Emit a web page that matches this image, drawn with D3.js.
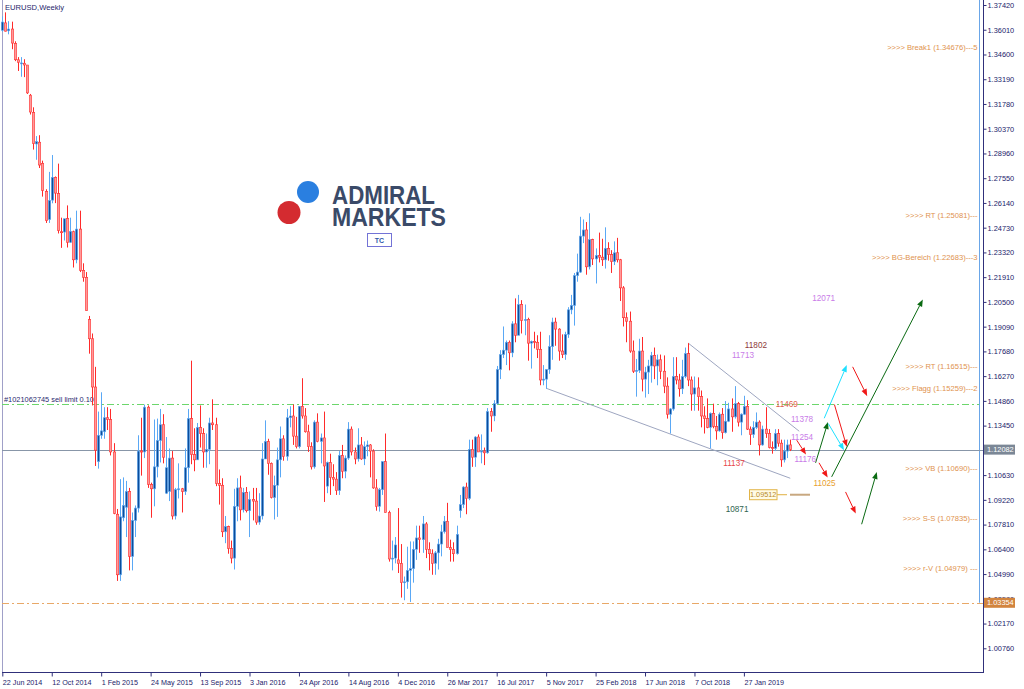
<!DOCTYPE html>
<html><head><meta charset="utf-8">
<script src="https://cdn.jsdelivr.net/npm/d3@7"></script>
<style>
body{margin:0;background:#fff}
svg{display:block}
text{font-family:"Liberation Sans",Arial,sans-serif}
</style>
</head><body>
<svg id="c" width="1024" height="689"></svg>
<script>
// ---------- DATA (EURUSD weekly, first bar = week of 22 Jun 2014) ----------
const firstWeek = "2014-06-22";
const opens = [
1.3598,1.3640,1.3595,1.3605,1.3523,1.3430,1.3410,1.3410,1.3400,1.3228,1.3130,1.2950,1.2960,1.2840,1.2680,1.2520,
1.2630,1.2760,1.2667,1.2450,1.2448,1.2525,1.2390,1.2450,1.2290,1.2465,1.2230,1.2190,1.1950,1.1840,1.1565,1.1140,
1.1290,1.1310,1.1390,1.1380,1.1195,1.0840,1.0495,1.0820,1.0880,1.0970,1.0600,1.0805,1.0875,1.1200,1.1195,1.1450,
1.1010,1.0985,1.1110,1.1260,1.1350,1.0960,1.0970,1.1160,1.0830,1.0980,1.0985,1.0970,1.1105,1.1385,1.1180,1.1150,
1.1335,1.1300,1.1195,1.1210,1.1360,1.1350,1.1015,1.1005,1.0740,1.0770,1.0645,1.0590,1.0885,1.0990,1.0865,1.0965,
1.0860,1.0925,1.0915,1.0795,1.0830,1.1155,1.1255,1.1130,1.0935,1.1005,1.1150,1.1270,1.1170,1.1390,1.1400,1.1285,
1.1225,1.1455,1.1400,1.1310,1.1225,1.1110,1.1365,1.1255,1.1275,1.1000,1.1135,1.1050,1.1040,1.0975,1.1175,1.1085,
1.1160,1.1325,1.1195,1.1155,1.1235,1.1155,1.1225,1.1235,1.1200,1.0990,1.0885,1.0980,1.1140,1.0850,1.0585,1.0590,
1.0580,1.0560,1.0450,1.0455,1.0520,1.0530,1.0640,1.0705,1.0695,1.0785,1.0640,1.0615,1.0560,1.0620,1.0670,1.0740,
1.0800,1.0650,1.0640,1.0615,1.0860,1.0895,1.0995,1.0930,1.1210,1.1165,1.1280,1.1195,1.1200,1.1190,1.1425,1.1400,
1.1470,1.1665,1.1750,1.1775,1.1820,1.1760,1.1925,1.1860,1.2035,1.1945,1.1950,1.1815,1.1825,1.1820,1.1780,1.1605,
1.1610,1.1665,1.1795,1.1935,1.1895,1.1770,1.1750,1.1865,1.2005,1.2030,1.2200,1.2220,1.2425,1.2460,1.2250,1.2405,
1.2295,1.2315,1.2305,1.2290,1.2355,1.2320,1.2280,1.2330,1.2290,1.2130,1.1960,1.1940,1.1770,1.1655,1.1660,1.1770,
1.1610,1.1650,1.1685,1.1745,1.1685,1.1720,1.1655,1.1570,1.1410,1.1440,1.1625,1.1605,1.1555,1.1625,1.1755,1.1605,
1.1525,1.1560,1.1510,1.1400,1.1385,1.1335,1.1415,1.1340,1.1315,1.1410,1.1305,1.1370,1.1440,1.1395,1.1470,1.1365,
1.1410,1.1455,1.1325,1.1295,1.1335,1.1365,1.1235,1.1325,1.1300,1.1220,1.1215,1.1300,1.1245,1.1150,1.1200,1.1235
];
const highs = [
1.3677,1.3700,1.3650,1.3647,1.3535,1.3445,1.3445,1.3433,1.3400,1.3235,1.3159,1.2995,1.3000,1.2855,1.2692,1.2791,
1.2887,1.2765,1.2838,1.2530,1.2510,1.2600,1.2530,1.2456,1.2570,1.2570,1.2270,1.2220,1.1970,1.1870,1.1680,1.1425,
1.1535,1.1450,1.1450,1.1440,1.1245,1.0870,1.1040,1.1050,1.1030,1.0990,1.0850,1.0890,1.1290,1.1390,1.1465,1.1460,
1.1020,1.1380,1.1385,1.1440,1.1410,1.1280,1.1215,1.1200,1.0990,1.1130,1.0990,1.1215,1.1440,1.1715,1.1330,1.1360,
1.1460,1.1330,1.1300,1.1390,1.1495,1.1390,1.1095,1.1045,1.0830,1.0775,1.0690,1.0985,1.1045,1.1060,1.0990,1.0995,
1.0970,1.0990,1.0990,1.0960,1.1245,1.1375,1.1270,1.1135,1.1060,1.1220,1.1340,1.1290,1.1440,1.1455,1.1465,1.1395,
1.1455,1.1615,1.1445,1.1350,1.1250,1.1375,1.1415,1.1300,1.1425,1.1140,1.1185,1.1125,1.1080,1.1200,1.1235,1.1175,
1.1365,1.1340,1.1220,1.1330,1.1280,1.1255,1.1260,1.1240,1.1210,1.1040,1.0990,1.1140,1.1300,1.0860,1.0690,1.0710,
1.0875,1.0670,1.0485,1.0655,1.0685,1.0685,1.0775,1.0775,1.0830,1.0795,1.0680,1.0640,1.0630,1.0700,1.0780,1.0830,
1.0905,1.0695,1.0680,1.0775,1.0950,1.1000,1.1020,1.1265,1.1265,1.1285,1.1295,1.1295,1.1220,1.1445,1.1445,1.1490,
1.1685,1.1775,1.1910,1.1830,1.1830,1.1940,1.2070,1.2090,1.2060,1.2035,1.1960,1.1830,1.1880,1.1860,1.1880,1.1690,
1.1665,1.1860,1.1960,1.1960,1.1900,1.1865,1.1880,1.2020,1.2090,1.2215,1.2325,1.2535,1.2520,1.2505,1.2555,1.2410,
1.2355,1.2445,1.2410,1.2475,1.2390,1.2345,1.2395,1.2415,1.2295,1.2140,1.1990,1.1995,1.1830,1.1725,1.1840,1.1850,
1.1680,1.1720,1.1765,1.1790,1.1750,1.1750,1.1745,1.1620,1.1445,1.1735,1.1735,1.1640,1.1720,1.1790,1.1815,1.1625,
1.1625,1.1620,1.1545,1.1455,1.1500,1.1420,1.1470,1.1400,1.1420,1.1445,1.1485,1.1475,1.1500,1.1570,1.1480,1.1415,
1.1515,1.1490,1.1340,1.1370,1.1420,1.1375,1.1345,1.1450,1.1325,1.1255,1.1325,1.1325,1.1265,1.1265,1.1265,1.1265
];
const lows = [
1.3590,1.3591,1.3575,1.3490,1.3422,1.3366,1.3333,1.3331,1.3235,1.3118,1.2918,1.2860,1.2813,1.2650,1.2500,1.2500,
1.2612,1.2613,1.2440,1.2358,1.2400,1.2360,1.2386,1.2246,1.2270,1.2220,1.2165,1.2000,1.1755,1.1460,1.1115,1.1100,
1.1270,1.1270,1.1320,1.1175,1.0840,1.0460,1.0460,1.0800,1.0710,1.0520,1.0520,1.0710,1.0850,1.1060,1.1160,1.0990,
1.0820,1.0885,1.1050,1.1135,1.1130,1.0955,1.0915,1.0810,1.0810,1.0930,1.0850,1.0950,1.1020,1.1125,1.1085,1.1150,
1.1220,1.1105,1.1105,1.1125,1.1320,1.1000,1.0895,1.0710,1.0675,1.0615,1.0560,1.0525,1.0800,1.0805,1.0850,1.0850,
1.0710,1.0805,1.0780,1.0780,1.0810,1.1155,1.1065,1.0930,1.0810,1.0825,1.1050,1.1145,1.1145,1.1335,1.1235,1.1215,
1.1215,1.1385,1.1305,1.1195,1.1095,1.1100,1.1250,1.1130,1.0910,1.0960,1.0950,1.1000,1.0950,1.0950,1.1045,1.1045,
1.1150,1.1175,1.1125,1.1140,1.1150,1.1120,1.1170,1.1050,1.0985,1.0860,1.0855,1.0950,1.0850,1.0570,1.0520,1.0560,
1.0505,1.0365,1.0350,1.0415,1.0340,1.0450,1.0580,1.0620,1.0620,1.0590,1.0520,1.0495,1.0495,1.0525,1.0600,1.0730,
1.0650,1.0570,1.0570,1.0610,1.0820,1.0875,1.0840,1.0920,1.1110,1.1110,1.1195,1.1130,1.1120,1.1185,1.1310,1.1370,
1.1465,1.1610,1.1730,1.1690,1.1660,1.1735,1.1820,1.1860,1.1870,1.1860,1.1715,1.1670,1.1785,1.1730,1.1575,1.1575,
1.1555,1.1640,1.1720,1.1800,1.1715,1.1730,1.1720,1.1845,1.1980,1.1915,1.2165,1.2215,1.2385,1.2205,1.2235,1.2260,
1.2155,1.2275,1.2255,1.2240,1.2285,1.2215,1.2260,1.2275,1.2055,1.1910,1.1820,1.1760,1.1645,1.1510,1.1645,1.1540,
1.1505,1.1525,1.1590,1.1610,1.1575,1.1610,1.1530,1.1385,1.1300,1.1430,1.1580,1.1510,1.1525,1.1615,1.1570,1.1430,
1.1430,1.1430,1.1335,1.1300,1.1330,1.1215,1.1330,1.1265,1.1310,1.1270,1.1300,1.1365,1.1310,1.1385,1.1340,1.1290,
1.1405,1.1320,1.1235,1.1275,1.1325,1.1175,1.1230,1.1275,1.1215,1.1185,1.1200,1.1225,1.1110,1.1135,1.1160,1.1200
];
const closes = [
1.3645,1.3593,1.3605,1.3525,1.3430,1.3415,1.3412,1.3400,1.3241,1.3132,1.2952,1.2964,1.2830,1.2685,1.2513,1.2628,
1.2760,1.2670,1.2456,1.2448,1.2524,1.2390,1.2452,1.2290,1.2465,1.2230,1.2190,1.2000,1.1840,1.1565,1.1205,1.1290,
1.1315,1.1390,1.1380,1.1195,1.0845,1.0495,1.0825,1.0890,1.0970,1.0600,1.0805,1.0875,1.1200,1.1195,1.1450,1.1010,
1.0985,1.1110,1.1260,1.1350,1.1165,1.1105,1.1160,1.0830,1.0980,1.0985,1.0970,1.1105,1.1385,1.1180,1.1150,1.1335,
1.1300,1.1195,1.1210,1.1360,1.1350,1.1015,1.1005,1.0740,1.0770,1.0645,1.0590,1.0885,1.0990,1.0865,1.0965,1.0860,
1.0925,1.0915,1.0795,1.0830,1.1155,1.1255,1.1130,1.0935,1.1005,1.1150,1.1270,1.1170,1.1390,1.1400,1.1285,1.1225,
1.1455,1.1400,1.1310,1.1225,1.1110,1.1365,1.1255,1.1275,1.1115,1.1135,1.1050,1.1040,1.0975,1.1175,1.1085,1.1160,
1.1325,1.1195,1.1155,1.1235,1.1155,1.1225,1.1235,1.1200,1.0990,1.0885,1.0980,1.1140,1.0850,1.0585,1.0590,1.0665,
1.0560,1.0450,1.0455,1.0520,1.0530,1.0640,1.0705,1.0695,1.0785,1.0640,1.0615,1.0560,1.0620,1.0670,1.0740,1.0800,
1.0650,1.0640,1.0615,1.0725,1.0895,1.0995,1.0930,1.1210,1.1165,1.1280,1.1195,1.1200,1.1190,1.1425,1.1400,1.1470,
1.1665,1.1750,1.1775,1.1820,1.1760,1.1925,1.1860,1.2035,1.1945,1.1950,1.1815,1.1825,1.1820,1.1780,1.1605,1.1610,
1.1665,1.1795,1.1935,1.1895,1.1770,1.1750,1.1865,1.2005,1.2030,1.2200,1.2220,1.2425,1.2460,1.2250,1.2405,1.2295,
1.2315,1.2305,1.2290,1.2355,1.2320,1.2280,1.2330,1.2290,1.2130,1.1960,1.1940,1.1770,1.1655,1.1660,1.1770,1.1610,
1.1650,1.1685,1.1745,1.1685,1.1720,1.1655,1.1570,1.1410,1.1440,1.1625,1.1605,1.1555,1.1625,1.1755,1.1605,1.1525,
1.1560,1.1510,1.1400,1.1385,1.1335,1.1415,1.1340,1.1315,1.1410,1.1305,1.1370,1.1440,1.1395,1.1470,1.1365,1.1410,
1.1455,1.1325,1.1295,1.1335,1.1365,1.1235,1.1325,1.1300,1.1220,1.1215,1.1300,1.1245,1.1150,1.1200,1.1235,1.1208
];

const xTickIndex = [0,16,32,48,64,80,96,112,128,144,160,176,192,208,224,240];
const xTickLabels = ["22 Jun 2014","12 Oct 2014","1 Feb 2015","24 May 2015","13 Sep 2015","3 Jan 2016",
  "24 Apr 2016","14 Aug 2016","4 Dec 2016","26 Mar 2017","16 Jul 2017","5 Nov 2017","25 Feb 2018",
  "17 Jun 2018","7 Oct 2018","27 Jan 2019"];
const yTickValues = [1.37420,1.36010,1.34600,1.33190,1.31780,1.30370,1.28960,1.27550,1.26140,1.24730,
  1.23320,1.21910,1.20500,1.19090,1.17680,1.16270,1.14860,1.13450,1.12040,1.10630,1.09220,1.07810,
  1.06400,1.04990,1.03580,1.02170,1.00760];

const currentPrice = 1.12082;
const orderPrice = 1.14690;
const orderLabel = "#1021062745 sell limit 0.10";
const supportPrice = 1.03354;

const levelLabels = [">>>> Break1 (1.34676)---5",">>>> RT (1.25081)---",">>>> BG-Bereich (1.22683)---3",
  ">>>> RT (1.16515)---",">>>> Flagg (1.15259)---2",">>>> VB (1.10690)---",">>>> S-S (1.07835)---",
  ">>>> r-V (1.04979) ---"];
const levelPrices = [1.34676,1.25081,1.22683,1.16515,1.15259,1.10690,1.07835,1.04979];

// trend lines: [index1, price1, index2, price2]
const trendLines = [[222,1.1815,257.9,1.1313],[176,1.1558,255,1.1045]];

// arrows: [index1, price1, index2, price2, colour]
const arrows = [
  [257.1,1.1262,260.1,1.1180,"red"],
  [263.2,1.1133,267.2,1.1365,"green"],
  [264.3,1.1133,267.1,1.1049,"red"],
  [266.0,1.1387,273.3,1.1690,"cyan"],
  [267.3,1.1357,272.4,1.1205,"cyan"],
  [269.3,1.1465,273.3,1.1224,"red"],
  [275.2,1.1680,279.9,1.1513,"red"],
  [268.4,1.1053,297.9,1.2064,"green"],
  [272.9,1.0967,276.2,1.0844,"red"],
  [278.1,1.0783,283.0,1.1081,"green"]
];

// numeric notes: text, index, price, colour
const noteTexts = ["12071","11802","11713","11469","11378","11254","11176","11137","11025","10871"];
const noteIndex = [265.8,243.9,239.7,253.9,258.8,258.8,259.9,236.8,266.1,237.8];
const notePrices = [1.2071,1.1802,1.1745,1.1467,1.1380,1.1278,1.1152,1.1130,1.1016,1.0868];
const noteColors = ["#c97ce8","#8e3a3a","#c97ce8","#e0604c","#c97ce8","#c97ce8","#c97ce8","#e8484a","#e8a030","#2f6450"];

const priceBoxValue = 1.09512;

// ---------- SCALES ----------
const svg = d3.select("#c");
const plotL = 2, plotR = 983, plotB = 672;
const x = d3.scaleLinear().domain([0,240]).range([2.3,743.9]);
const y = d3.scaleLinear().domain([1.00760,1.37420]).range([648.3,5]);

const colors = {red:"#f01818", green:"#0a6a12", cyan:"#1ee0ff"};

svg.append("rect").attr("width",1024).attr("height",689).attr("fill","#ffffff");

// ---------- LOGO ----------
const logo = svg.append("g");
logo.append("circle").attr("cx",308).attr("cy",192).attr("r",11).attr("fill","#2a7fe0");
logo.append("circle").attr("cx",289).attr("cy",212.5).attr("r",11.5).attr("fill","#d42b30");
const lt = logo.append("text").attr("font-size",26).attr("font-weight","bold").attr("fill","#3a4a68");
lt.append("tspan").attr("x",332).attr("y",203.5).attr("textLength",103).attr("lengthAdjust","spacingAndGlyphs").text("ADMIRAL");
lt.append("tspan").attr("x",332).attr("y",225.5).attr("textLength",114).attr("lengthAdjust","spacingAndGlyphs").text("MARKETS");
logo.append("rect").attr("x",367.5).attr("y",233.5).attr("width",24).attr("height",13)
  .attr("fill","#fff").attr("stroke","#7373d6").attr("stroke-width",1);
logo.append("text").attr("x",379.5).attr("y",243).attr("text-anchor","middle").attr("font-size",7)
  .attr("font-weight","bold").attr("fill","#3056a8").text("TC");

// ---------- FRAME ----------
svg.append("line").attr("x1",plotL+0.5).attr("x2",plotL+0.5).attr("y1",0).attr("y2",plotB)
  .attr("stroke","#a0a0c8");
svg.append("line").attr("x1",979.5).attr("x2",979.5).attr("y1",0).attr("y2",y(supportPrice))
  .attr("stroke","#6aa6e8");

// horizontal levels
svg.append("line").attr("x1",plotL).attr("x2",979).attr("y1",Math.round(y(orderPrice))+0.5)
  .attr("y2",Math.round(y(orderPrice))+0.5).attr("stroke","#6cd66c").attr("stroke-dasharray","7,3,2,3");
svg.append("text").attr("x",4).attr("y",y(orderPrice)-2.2).attr("font-size",7.4).attr("fill","#2a2a70")
  .text(orderLabel);
svg.append("line").attr("x1",plotL).attr("x2",plotR).attr("y1",Math.round(y(currentPrice))+0.5)
  .attr("y2",Math.round(y(currentPrice))+0.5).attr("stroke","#8896a8");
svg.append("line").attr("x1",plotL).attr("x2",plotR).attr("y1",Math.round(y(supportPrice))+0.5)
  .attr("y2",Math.round(y(supportPrice))+0.5).attr("stroke","#e8a868").attr("stroke-dasharray","7,3,2,3");

// trend lines
svg.append("g").selectAll("line").data(trendLines).join("line")
  .attr("x1",d=>x(d[0])).attr("y1",d=>y(d[1])).attr("x2",d=>x(d[2])).attr("y2",d=>y(d[3]))
  .attr("stroke","#9ea6c0").attr("stroke-width",1);

// ---------- CANDLES ----------
const candles = opens.map((o,i)=>({i,o,h:highs[i],l:lows[i],c:closes[i]}));
const cg = svg.append("g");
cg.selectAll("line").data(candles).join("line")
  .attr("x1",d=>Math.round(x(d.i))+0.5).attr("x2",d=>Math.round(x(d.i))+0.5)
  .attr("y1",d=>y(d.h)).attr("y2",d=>y(d.l))
  .attr("stroke",d=>d.c>=d.o?"#5aa8f5":"#ff2a2a").attr("stroke-width",1);
cg.selectAll("rect").data(candles).join("rect")
  .attr("x",d=>Math.round(x(d.i))-0.7).attr("width",2.4)
  .attr("y",d=>y(Math.max(d.o,d.c)))
  .attr("height",d=>Math.max(1,Math.abs(y(d.o)-y(d.c))))
  .attr("fill",d=>d.c>=d.o?"#0c4d9a":"#ff9a9a")
  .attr("stroke",d=>d.c>=d.o?"#6ab0f5":"#ff3030").attr("stroke-width",0.6);

// ---------- ARROWS ----------
const ag = svg.append("g");
arrows.forEach(a=>{
  const x1=x(a[0]),y1=y(a[1]),x2=x(a[2]),y2=y(a[3]);
  const ang=Math.atan2(y2-y1,x2-x1), L=7, Wd=2.8;
  const bx=x2-L*Math.cos(ang), by=y2-L*Math.sin(ang);
  ag.append("line").attr("x1",x1).attr("y1",y1).attr("x2",bx).attr("y2",by)
    .attr("stroke",colors[a[4]]).attr("stroke-width",1);
  ag.append("path").attr("d",`M${x2},${y2}L${bx+Wd*Math.sin(ang)},${by-Wd*Math.cos(ang)}L${bx-Wd*Math.sin(ang)},${by+Wd*Math.cos(ang)}Z`)
    .attr("fill",colors[a[4]]);
});

// ---------- PRICE LABEL BOX ----------
const pb = y(priceBoxValue);
svg.append("line").attr("x1",777).attr("x2",787).attr("y1",pb).attr("y2",pb).attr("stroke","#e0b040");
svg.append("line").attr("x1",790).attr("x2",810).attr("y1",pb).attr("y2",pb).attr("stroke","#c8a880").attr("stroke-width",2);
svg.append("rect").attr("x",749.5).attr("y",pb-5).attr("width",27.5).attr("height",10)
  .attr("fill","#fffbe6").attr("stroke","#e2b448");
svg.append("text").attr("x",763.2).attr("y",pb+2.6).attr("text-anchor","middle").attr("font-size",7.3)
  .attr("fill","#b88a2a").text(priceBoxValue.toFixed(5));

// ---------- NOTES ----------
svg.append("g").selectAll("text").data(noteTexts).join("text")
  .attr("x",(d,i)=>x(noteIndex[i])).attr("y",(d,i)=>y(notePrices[i])+3)
  .attr("text-anchor","middle").attr("font-size",8.2).attr("fill",(d,i)=>noteColors[i]).text(d=>d);

// level labels (right aligned)
svg.append("g").selectAll("text").data(levelLabels).join("text")
  .attr("x",977.5).attr("y",(d,i)=>y(levelPrices[i])-3.2).attr("text-anchor","end")
  .attr("font-size",7.6).attr("fill","#e0924e").text(d=>d);

// title
svg.append("text").attr("x",5).attr("y",10).attr("font-size",7.6).attr("fill","#1e1e6a").text("EURUSD,Weekly");

// ---------- AXES ----------
const yAxis = d3.axisRight(y).tickValues(yTickValues).tickSize(3).tickSizeOuter(0)
  .tickFormat(d=>d.toFixed(5));
const gy = svg.append("g").attr("transform",`translate(${plotR+0.5},0)`).call(yAxis);
gy.select(".domain").remove();
gy.selectAll("line").attr("stroke","#30307a");
gy.selectAll("text").attr("x",4).attr("font-size",7.4).attr("fill","#22226a")
  .attr("font-family","Liberation Sans, Arial, sans-serif");

const xAxis = d3.axisBottom(x).tickValues(xTickIndex).tickSize(4).tickSizeOuter(0)
  .tickFormat((d,i)=>xTickLabels[i]);
const gx = svg.append("g").attr("transform",`translate(0,${plotB+0.5})`).call(xAxis);
gx.select(".domain").remove();
gx.selectAll("line").attr("stroke","#30307a");
gx.selectAll("text").attr("text-anchor","start").attr("x",0).attr("font-size",7.2).attr("fill","#22226a")
  .attr("font-family","Liberation Sans, Arial, sans-serif");

svg.append("line").attr("x1",plotL).attr("x2",plotR+1).attr("y1",plotB+0.5).attr("y2",plotB+0.5).attr("stroke","#30307a");
svg.append("line").attr("x1",plotR+0.5).attr("x2",plotR+0.5).attr("y1",0).attr("y2",plotB+1).attr("stroke","#30307a");

// axis price boxes
function axisBox(price, fill){
  const yy = y(price);
  svg.append("rect").attr("x",984).attr("y",yy-5).attr("width",31).attr("height",10).attr("fill",fill);
  svg.append("text").attr("x",987).attr("y",yy+2.6).attr("font-size",7.4).attr("fill","#ffffff").text(price.toFixed(5));
}
axisBox(currentPrice,"#7b8796");
axisBox(supportPrice,"#d2843e");
</script>
</body></html>
